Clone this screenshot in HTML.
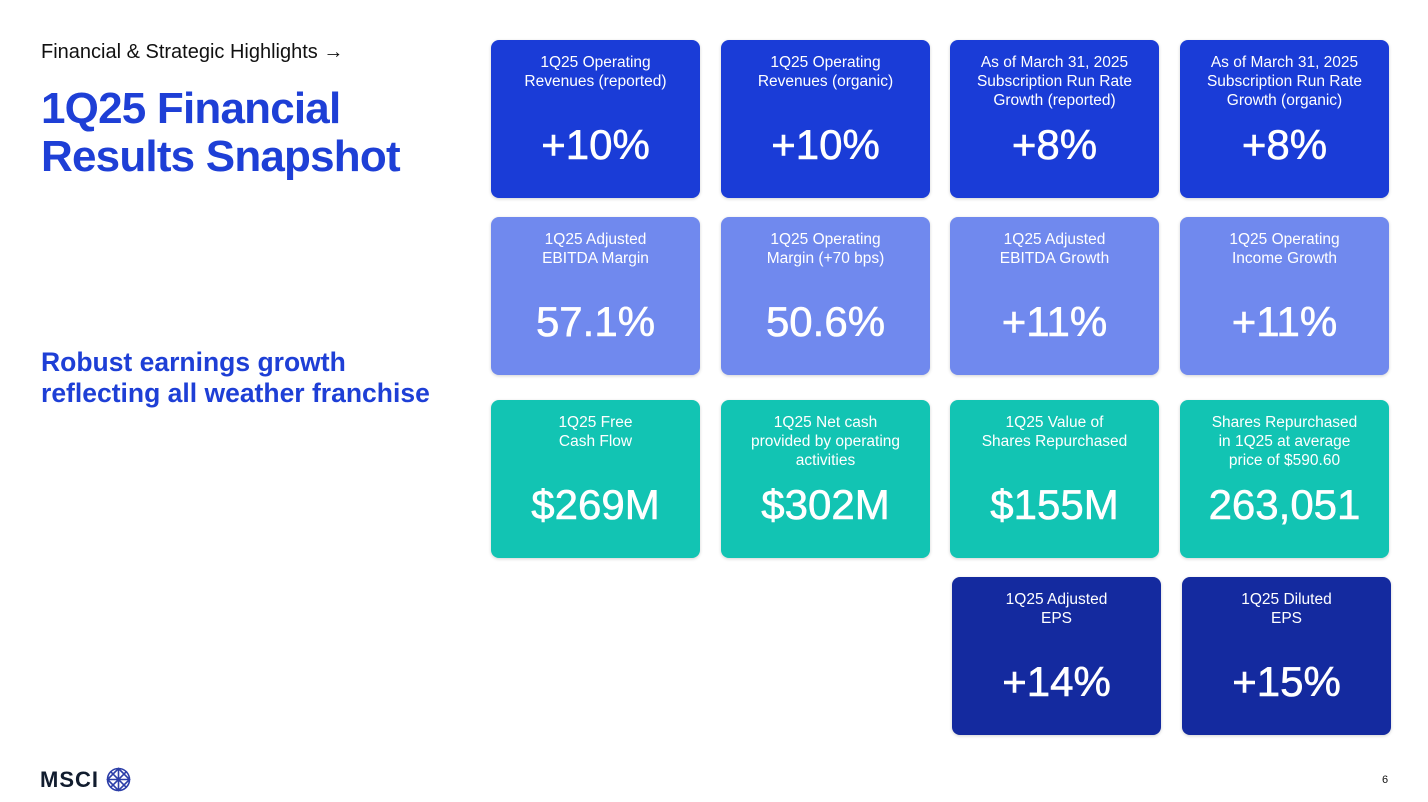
<!DOCTYPE html>
<html><head><meta charset="utf-8"><style>
*{margin:0;padding:0;box-sizing:border-box}
body{width:1428px;height:802px;background:#fff;font-family:"Liberation Sans",sans-serif;position:relative;overflow:hidden}
.card{position:absolute;width:209px;height:158px;border-radius:8px;color:#fff;text-align:center;box-shadow:0 1px 3px rgba(0,0,0,.18)}
.lbl{position:absolute;top:13px;left:0;right:0;font-size:15.5px;line-height:19px}
.val{position:absolute;top:80px;left:0;right:0;font-size:42px;line-height:50px;-webkit-text-stroke:0.6px #fff}
.b{background:#1a3cd7}.l{background:#7089ee}.t{background:#12c4b3}.n{background:#142a9f}
</style></head><body>
<div style="position:absolute;left:41px;top:41px;font-size:20px;color:#111">Financial &amp; Strategic Highlights →</div>
<div style="position:absolute;left:41px;top:85px;font-size:44px;line-height:48px;color:#1e3fd6;font-weight:bold;letter-spacing:-0.8px">1Q25 Financial<br>Results Snapshot</div>
<div style="position:absolute;left:41px;top:347px;font-size:26.5px;line-height:31px;color:#1e3fd6;font-weight:bold">Robust earnings growth<br>reflecting all weather franchise</div>

<div class="card b" style="left:491px;top:40px"><div class="lbl">1Q25 Operating<br>Revenues (reported)</div><div class="val">+10%</div></div>
<div class="card b" style="left:721px;top:40px"><div class="lbl">1Q25 Operating<br>Revenues (organic)</div><div class="val">+10%</div></div>
<div class="card b" style="left:950px;top:40px"><div class="lbl">As of March 31, 2025<br>Subscription Run Rate<br>Growth (reported)</div><div class="val">+8%</div></div>
<div class="card b" style="left:1180px;top:40px"><div class="lbl">As of March 31, 2025<br>Subscription Run Rate<br>Growth (organic)</div><div class="val">+8%</div></div>

<div class="card l" style="left:491px;top:217px"><div class="lbl">1Q25 Adjusted<br>EBITDA Margin</div><div class="val">57.1%</div></div>
<div class="card l" style="left:721px;top:217px"><div class="lbl">1Q25 Operating<br>Margin (+70 bps)</div><div class="val">50.6%</div></div>
<div class="card l" style="left:950px;top:217px"><div class="lbl">1Q25 Adjusted<br>EBITDA Growth</div><div class="val">+11%</div></div>
<div class="card l" style="left:1180px;top:217px"><div class="lbl">1Q25 Operating<br>Income Growth</div><div class="val">+11%</div></div>

<div class="card t" style="left:491px;top:400px"><div class="lbl">1Q25 Free<br>Cash Flow</div><div class="val">$269M</div></div>
<div class="card t" style="left:721px;top:400px"><div class="lbl">1Q25 Net cash<br>provided by operating<br>activities</div><div class="val">$302M</div></div>
<div class="card t" style="left:950px;top:400px"><div class="lbl">1Q25 Value of<br>Shares Repurchased</div><div class="val">$155M</div></div>
<div class="card t" style="left:1180px;top:400px"><div class="lbl">Shares Repurchased<br>in 1Q25 at average<br>price of $590.60</div><div class="val">263,051</div></div>

<div class="card n" style="left:952px;top:577px"><div class="lbl">1Q25 Adjusted<br>EPS</div><div class="val">+14%</div></div>
<div class="card n" style="left:1182px;top:577px"><div class="lbl">1Q25 Diluted<br>EPS</div><div class="val">+15%</div></div>

<div style="position:absolute;left:40px;top:767px;font-size:22px;font-weight:bold;color:#111c2e;letter-spacing:1px">MSCI</div>
<svg style="position:absolute;left:106px;top:767px" width="25" height="25" viewBox="0 0 25 25"><g fill="none" stroke="#2c3ea8" stroke-width="1.6"><circle cx="12.5" cy="12.5" r="11"/><path d="M1.5 12.5H23.5M12.5 1.5V23.5M4.7 4.7L20.3 20.3M20.3 4.7L4.7 20.3M12.5 1.5L23.5 12.5L12.5 23.5L1.5 12.5Z"/></g></svg>
<div style="position:absolute;left:1382px;top:774px;font-size:11px;color:#111">6</div>
</body></html>
